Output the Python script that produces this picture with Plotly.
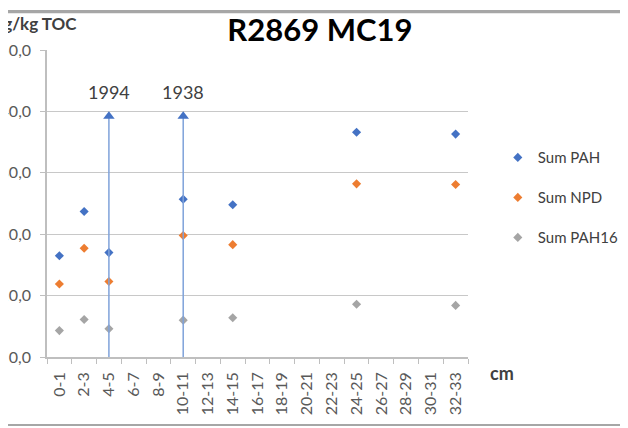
import plotly.graph_objects as go

# ---- data ----
categories = ["0-1", "2-3", "4-5", "6-7", "8-9", "10-11", "12-13", "14-15", "16-17",
              "18-19", "20-21", "22-23", "24-25", "26-27", "28-29", "30-31", "32-33"]
sample_depths = ["0-1", "2-3", "4-5", "10-11", "14-15", "24-25", "32-33"]
sum_pah = [16.5, 23.7, 17.0, 25.7, 24.8, 36.6, 36.3]
sum_npd = [11.9, 17.7, 12.3, 19.8, 18.3, 28.2, 28.1]
sum_pah16 = [4.3, 6.1, 4.6, 6.0, 6.4, 8.6, 8.4]
series_names = ["Sum PAH", "Sum NPD", "Sum PAH16"]
y_ticks = [0, 10, 20, 30, 40, 50]
y_tick_labels = ["0,0", "10,0", "20,0", "30,0", "40,0", "50,0"]
date_depths = ["4-5", "10-11"]
date_labels = ["1994", "1938"]
date_arrow_top = 40

colors = ["#4472C4", "#ED7D31", "#A5A5A5"]
FONT = "Lato"

fig = go.Figure()
for i, (name, vals) in enumerate(zip(series_names, [sum_pah, sum_npd, sum_pah16])):
    fig.add_trace(go.Scatter(
        x=sample_depths, y=vals, mode="markers", name=name,
        legendgroup=name,
        marker=dict(symbol="diamond", size=7, color=colors[i]),
    ))

for d, lab in zip(date_depths, date_labels):
    fig.add_trace(go.Scatter(
        x=[d, d], y=[0, date_arrow_top - 0.8], mode="lines",
        line=dict(color="#7FA2DA", width=1.5), showlegend=False, hoverinfo="skip"))
    fig.add_trace(go.Scatter(
        x=[d], y=[date_arrow_top - 0.8], mode="markers",
        marker=dict(symbol="triangle-up", size=10, color="#4472C4"),
        showlegend=False, hoverinfo="skip"))
    fig.add_annotation(x=d, y=date_arrow_top, text=lab, showarrow=False,
                       yshift=19, font=dict(family=FONT, size=18, color="#404040"))

fig.add_annotation(xref="paper", yref="paper", x=0.076, y=1.085, xanchor="right",
                   yanchor="middle", text="µg/kg TOC", showarrow=False,
                   font=dict(family=FONT, size=17, color="#404040", weight="bold"))
fig.add_annotation(xref="paper", yref="paper", x=1.0475, y=-0.052, xanchor="left",
                   yanchor="middle", text="cm", showarrow=False,
                   font=dict(family=FONT, size=18, color="#404040", weight="bold"))

# chart border lines (cropped)
fig.add_shape(type="rect", xref="paper", yref="paper", x0=-0.0926, x1=1.38, y0=1.12, y1=1.13,
              line=dict(width=0), fillcolor="#A6A6A6", layer="above")
fig.add_shape(type="line", xref="paper", yref="paper", x0=-0.0926, x1=1.38, y0=-0.2215, y1=-0.2215,
              line=dict(color="#A6A6A6", width=2))

fig.update_layout(
    width=620, height=420,
    margin=dict(l=39, r=160, t=42, b=71, autoexpand=False),
    paper_bgcolor="white", plot_bgcolor="white",
    title=dict(text="<b>R2869 MC19</b>", x=0.503, xanchor="center", y=0.948, yanchor="middle",
               font=dict(family=FONT, size=31, color="#000000")),
    font=dict(family=FONT, color="#595959"),
    showlegend=True,
    legend=dict(xref="container", yref="container", x=0.790, y=0.683,
                xanchor="left", yanchor="top", traceorder="grouped",
                tracegroupgap=17.5, font=dict(family=FONT, size=15, color="#404040"),
                bgcolor="rgba(0,0,0,0)"),
    xaxis=dict(type="category", categoryorder="array", categoryarray=categories,
               range=[-0.5, len(categories) - 0.5], tickangle=-90, automargin=False,
               tickson="boundaries", ticks="outside", ticklen=5, tickcolor="#BFBFBF",
               showline=True, linecolor="#BFBFBF", linewidth=1.5, showgrid=False,
               ticklabelstandoff=7,
               tickfont=dict(family=FONT, size=16, color="#595959")),
    yaxis=dict(range=[0, 50], tickvals=y_ticks, ticktext=y_tick_labels, automargin=False,
               ticks="outside", ticklen=5, tickcolor="#BFBFBF",
               showline=True, linecolor="#BFBFBF", linewidth=1.5,
               gridcolor="#C8C8C8", gridwidth=1.2, zeroline=False,
               ticklabelstandoff=6,
               tickfont=dict(family=FONT, size=16, color="#595959")),
)

fig.write_html("out.html")
